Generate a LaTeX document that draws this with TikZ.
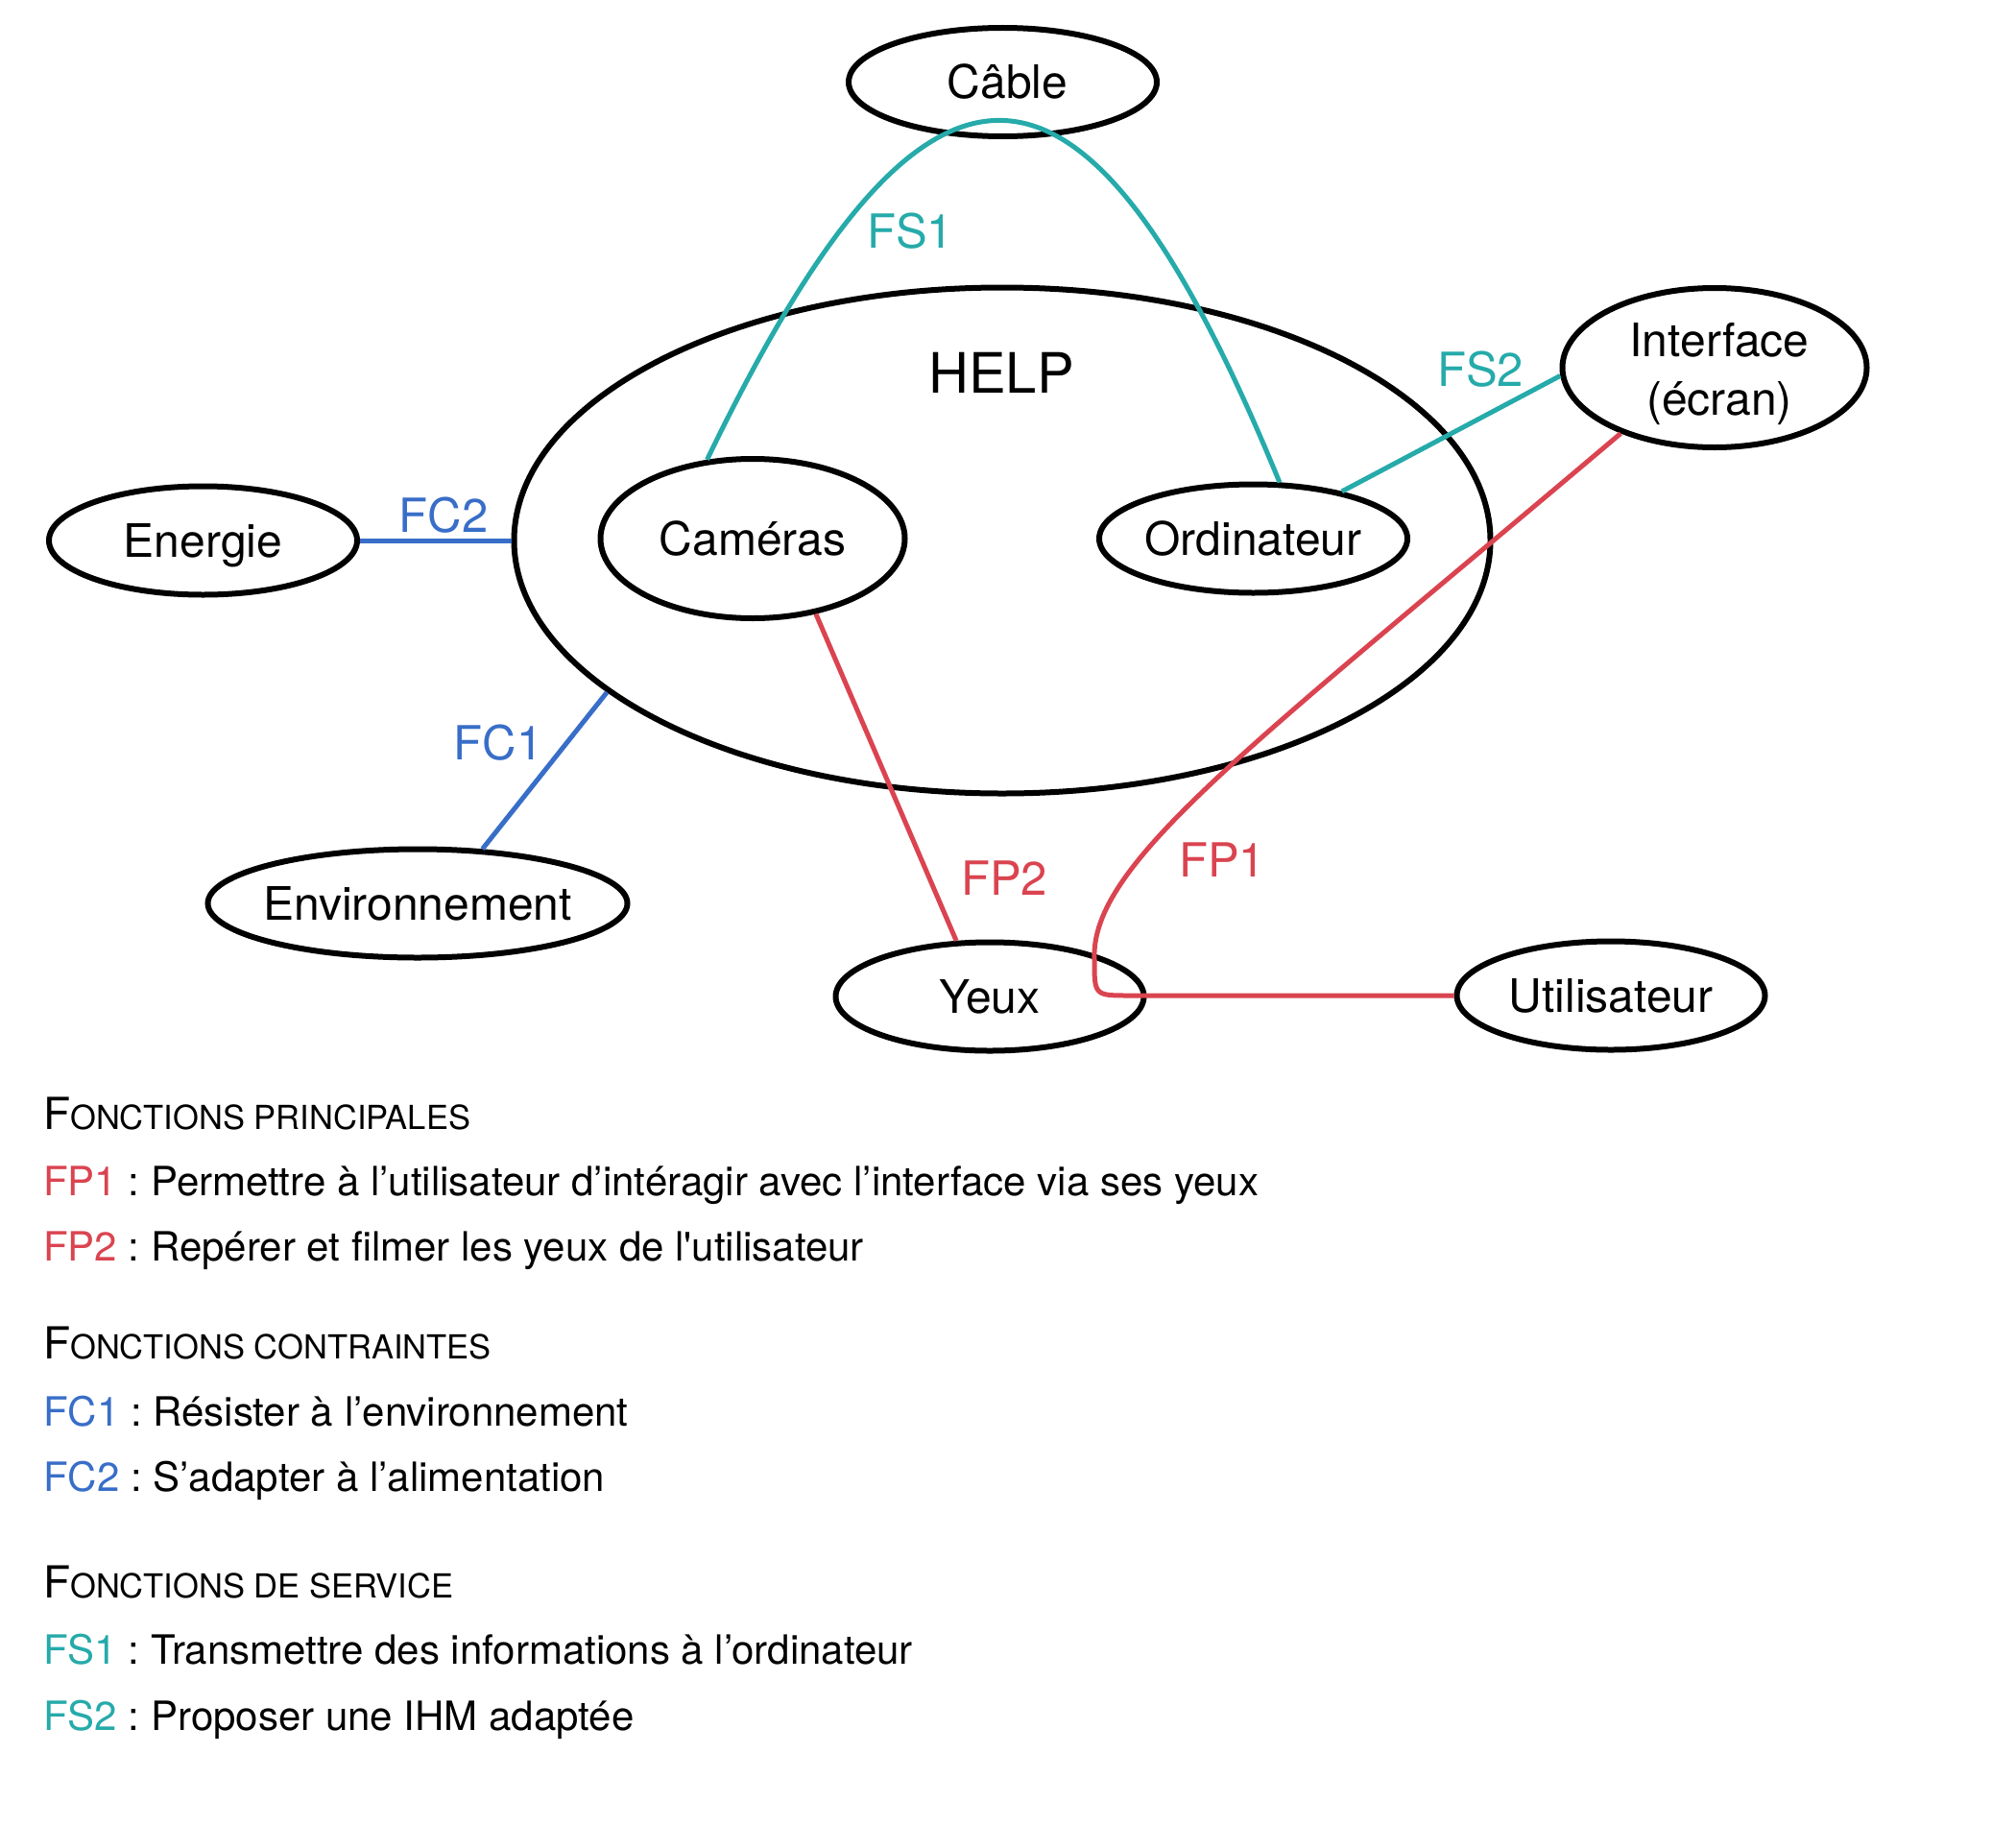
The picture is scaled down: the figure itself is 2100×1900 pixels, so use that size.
\documentclass[tikz,border=0pt]{standalone}
\usepackage{fontspec}
\setmainfont{TeX Gyre Heros}
\usetikzlibrary{shapes.geometric}
\definecolor{fpred}{HTML}{DA4450}
\definecolor{fsteal}{HTML}{26AAAA}
\definecolor{fcblue}{HTML}{386EC8}
\newcommand{\nodefont}{\fontsize{48}{58}\selectfont}
\newcommand{\lblfont}{\fontsize{49}{58}\selectfont}
\newcommand{\helpfont}{\fontsize{58}{68}\selectfont}
\newcommand{\descfont}{\fontsize{42}{50}\selectfont}
\newcommand{\headA}{\fontsize{46}{50}\selectfont}
\newcommand{\headB}{\fontsize{34.5}{40}\selectfont}
\frenchspacing
\begin{document}
\begin{tikzpicture}[x=1pt,y=-1pt,
  ell/.style={draw, ellipse, line width=6pt, inner sep=0pt, text height=34pt, text depth=0pt, font=\nodefont},
  conn/.style={line width=5pt},
  lbl/.style={inner sep=0pt, text height=35pt, text depth=0pt, font=\lblfont},
  desc/.style={anchor=base west, inner sep=0pt, font=\descfont},
  head/.style={anchor=base west, inner sep=0pt}]
\useasboundingbox (0,0) rectangle (2100,1900);
% nodes
\node[ell, minimum width=321pt, minimum height=113pt] (cable) at (1044.5,85.5) {\makebox[0pt]{\hspace{10pt}Câble}};
\node[ell, minimum width=1017pt, minimum height=527pt] (help) at (1044,563) {};
\node[ell, minimum width=317pt, minimum height=166pt] (cam) at (784,561) {\makebox[0pt]{Caméras}};
\node[ell, minimum width=321pt, minimum height=113pt] (ord) at (1305.5,561) {\makebox[0pt]{Ordinateur}};
\node[ell, minimum width=317pt, minimum height=166pt] (int) at (1786,383) {};
\node[ell, minimum width=321pt, minimum height=113pt] (energie) at (211.5,563) {\makebox[0pt]{Energie}};
\node[ell, minimum width=437pt, minimum height=113pt] (env) at (435,941) {\makebox[0pt]{Environnement}};
\node[ell, minimum width=321pt, minimum height=113pt] (yeux) at (1031,1038) {\makebox[0pt]{Yeux}};
\node[ell, minimum width=321pt, minimum height=113pt] (util) at (1678,1037) {\makebox[0pt]{Utilisateur}};
\node[inner sep=0pt, text height=42pt, text depth=0pt, font=\helpfont] (helptxt) at (1043,388) {HELP};
\node[anchor=base, inner sep=0pt, font=\nodefont] (intA) at (1791,371) {Interface};
\node[anchor=base, inner sep=0pt, font=\nodefont] (intB) at (1791,432) {(écran)};
% connectors
\draw[conn, fcblue] (energie.east) -- (help.west);
\draw[conn, fcblue] (help.201) -- (env.40);
\draw[conn, fsteal] (cam.120) .. controls (972,-10) and (1134,18) .. (ord.65);
\draw[conn, fsteal] (ord.28) -- (int.183);
\draw[conn, fpred] (cam.-50) -- (yeux.121);
\draw[conn, fpred] (int.215) .. controls (1300,780) and (1135,900) .. (1140,1000)
   .. controls (1140,1037) .. (1177,1037) -- (util.west);
% labels
\node[lbl, text=fsteal] (lfs1) at (948,241) {FS1};
\node[lbl, text=fsteal] (lfs2) at (1542,385) {FS2};
\node[lbl, text=fcblue] (lfc2) at (462,537) {FC2};
\node[lbl, text=fcblue] (lfc1) at (519,774) {FC1};
\node[lbl, text=fpred] (lfp2) at (1046,915) {FP2};
\node[lbl, text=fpred] (lfp1) at (1273,896) {FP1};
% legend
\node[head] (h1) at (45,1176) {{\headA F}{\headB ONCTIONS PRINCIPALES}};
\node[desc] (d1) at (45,1245) {\textcolor{fpred}{FP1} : Permettre à l’utilisateur d’intéragir avec l’interface via ses yeux};
\node[desc] (d2) at (45,1313) {\textcolor{fpred}{FP2} : Repérer et filmer les yeux de l\textquotesingle utilisateur};
\node[head] (h2) at (45,1415) {{\headA F}{\headB ONCTIONS CONTRAINTES}};
\node[desc] (d3) at (45,1485) {\textcolor{fcblue}{FC1} : Résister à l’environnement};
\node[desc] (d4) at (45,1553) {\textcolor{fcblue}{FC2} : S’adapter à l’alimentation};
\node[head] (h3) at (45,1664) {{\headA F}{\headB ONCTIONS DE SERVICE}};
\node[desc] (d5) at (45,1733) {\textcolor{fsteal}{FS1} : Transmettre des informations à l’ordinateur};
\node[desc] (d6) at (45,1802) {\textcolor{fsteal}{FS2} : Proposer une IHM adaptée};
\end{tikzpicture}
\end{document}
